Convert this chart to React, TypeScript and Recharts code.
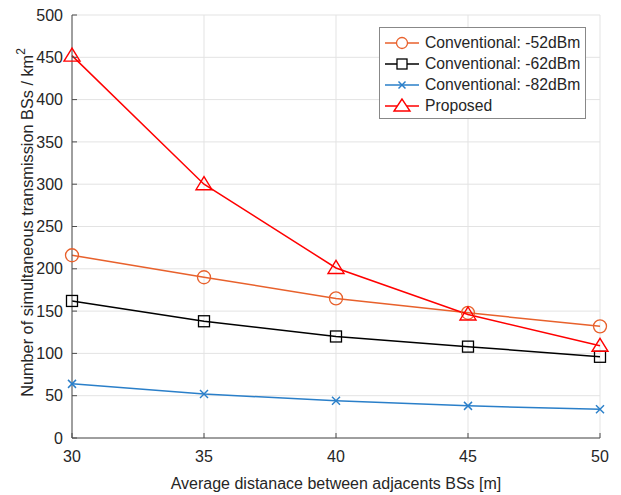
import React from "react";
import { LineChart, Line, XAxis, YAxis, CartesianGrid } from "recharts";

const distances = [30, 35, 40, 45, 50];
const conv52 = [216, 190, 165, 148, 132];
const conv62 = [162, 138, 120, 108, 96];
const conv82 = [64, 52, 44, 38, 34];
const proposed = [452, 300, 201, 146, 109];
const xTicks = [30, 35, 40, 45, 50];
const yTicks = [0, 50, 100, 150, 200, 250, 300, 350, 400, 450, 500];

const data = distances.map((d, i) => ({
  d,
  c52: conv52[i],
  c62: conv62[i],
  c82: conv82[i],
  prop: proposed[i],
}));

const ORANGE = "#E8612C";
const BLACK = "#000000";
const BLUE = "#2A7FC9";
const RED = "#FF0000";
const FONT = "'Liberation Sans', Arial, sans-serif";
const TXT = "#262626";

const Circle = (p: any) => {
  const { cx, cy, key } = p;
  if (cx == null || cy == null) return <g key={key} />;
  return <circle key={key} cx={cx} cy={cy} r={6.5} fill="none" stroke={ORANGE} strokeWidth={1.3} />;
};
const Square = (p: any) => {
  const { cx, cy, key } = p;
  if (cx == null || cy == null) return <g key={key} />;
  return <rect key={key} x={cx - 5.5} y={cy - 5.5} width={11} height={11} fill="none" stroke={BLACK} strokeWidth={1.3} />;
};
const Cross = (p: any) => {
  const { cx, cy, key } = p;
  if (cx == null || cy == null) return <g key={key} />;
  const s = 4;
  return (
    <g key={key} stroke={BLUE} strokeWidth={1.5}>
      <line x1={cx - s} y1={cy - s} x2={cx + s} y2={cy + s} />
      <line x1={cx - s} y1={cy + s} x2={cx + s} y2={cy - s} />
    </g>
  );
};
const Tri = (p: any) => {
  const { cx, cy, key } = p;
  if (cx == null || cy == null) return <g key={key} />;
  return (
    <polygon key={key} points={`${cx},${cy - 7.5} ${cx - 8},${cy + 5.5} ${cx + 8},${cy + 5.5}`} fill="none" stroke={RED} strokeWidth={1.4} />
  );
};

const legendItems = [
  { name: "Conventional: -52dBm", color: ORANGE, m: "circle" },
  { name: "Conventional: -62dBm", color: BLACK, m: "square" },
  { name: "Conventional: -82dBm", color: BLUE, m: "cross" },
  { name: "Proposed", color: RED, m: "tri" },
];

const LegendBox = () => (
  <div
    style={{
      position: "absolute",
      left: 379,
      top: 27,
      background: "#fff",
      border: "1px solid #888",
      padding: "5px 4px 2px 4px",
      fontFamily: FONT,
      fontSize: 15.7,
      color: TXT,
      width: 197,
      boxSizing: "content-box",
    }}
  >
    {legendItems.map((it) => (
      <div key={it.name} style={{ display: "flex", alignItems: "center", height: 20.8, whiteSpace: "nowrap" }}>
        <svg width={40} height={20} style={{ marginRight: 1 }}>
          <line x1={1} y1={10} x2={35} y2={10} stroke={it.color} strokeWidth={1.4} />
          {it.m === "circle" && <circle cx={18} cy={10} r={5.5} fill="#fff" stroke={it.color} strokeWidth={1.3} />}
          {it.m === "square" && <rect x={13} y={5} width={10} height={10} fill="#fff" stroke={it.color} strokeWidth={1.3} />}
          {it.m === "cross" && (
            <g stroke={it.color} strokeWidth={1.5}>
              <line x1={14.5} y1={6.5} x2={21.5} y2={13.5} />
              <line x1={14.5} y1={13.5} x2={21.5} y2={6.5} />
            </g>
          )}
          {it.m === "tri" && <polygon points="18,3 10,15 26,15" fill="#fff" stroke={it.color} strokeWidth={1.4} />}
        </svg>
        <span>{it.name}</span>
      </div>
    ))}
  </div>
);

const YLabel = (props: any) => {
  const { viewBox } = props;
  const cy = viewBox.y + viewBox.height / 2 - 4;
  const x = 27;
  return (
    <text
      x={x}
      y={cy}
      transform={`rotate(-90 ${x} ${cy})`}
      textAnchor="middle"
      dominantBaseline="central"
      fontFamily={FONT}
      fontSize={16.3}
      fill={TXT}
    >
      Number of simultaneous transmission BSs / km
      <tspan dy={-6} fontSize={12}>2</tspan>
    </text>
  );
};

export default function App() {
  return (
    <div style={{ position: "absolute", left: 0, top: 0, width: 621, height: 495, background: "#fff" }}>
      <LineChart
        width={621}
        height={495}
        data={data}
        margin={{ top: 15, right: 21, left: 0, bottom: 0 }}
      >
        <CartesianGrid stroke="#e3e3e3" strokeWidth={1} />
        <XAxis
          dataKey="d"
          type="number"
          domain={[30, 50]}
          ticks={xTicks}
          height={57}
          stroke="#4d4d4d"
          tickSize={-5}
          tickMargin={18}
          tick={{ fontFamily: FONT, fontSize: 16, fill: TXT }}
          label={{
            value: "Average distanace between adjacents BSs [m]",
            position: "insideBottom",
            offset: 6,
            style: { fontFamily: FONT, fontSize: 16, fill: TXT },
          }}
        />
        <XAxis
          xAxisId="top"
          orientation="top"
          dataKey="d"
          type="number"
          domain={[30, 50]}
          ticks={xTicks}
          height={0}
          stroke="#4d4d4d"
          tickSize={-5}
          tick={false}
        />
        <YAxis
          type="number"
          domain={[0, 500]}
          ticks={yTicks}
          width={72}
          stroke="#4d4d4d"
          tickSize={-5}
          tickMargin={14}
          tick={{ fontFamily: FONT, fontSize: 16, fill: TXT }}
          label={<YLabel />}
        />
        <YAxis
          yAxisId="right"
          orientation="right"
          type="number"
          domain={[0, 500]}
          ticks={yTicks}
          width={0}
          stroke="#4d4d4d"
          tickSize={-5}
          tick={false}
        />
        <Line dataKey="c52" name="Conventional: -52dBm" stroke={ORANGE} strokeWidth={1.5} dot={Circle} isAnimationActive={false} />
        <Line dataKey="c62" name="Conventional: -62dBm" stroke={BLACK} strokeWidth={1.5} dot={Square} isAnimationActive={false} />
        <Line dataKey="c82" name="Conventional: -82dBm" stroke={BLUE} strokeWidth={1.5} dot={Cross} isAnimationActive={false} />
        <Line dataKey="prop" name="Proposed" stroke={RED} strokeWidth={1.5} dot={Tri} isAnimationActive={false} />
      </LineChart>
      <LegendBox />
    </div>
  );
}
